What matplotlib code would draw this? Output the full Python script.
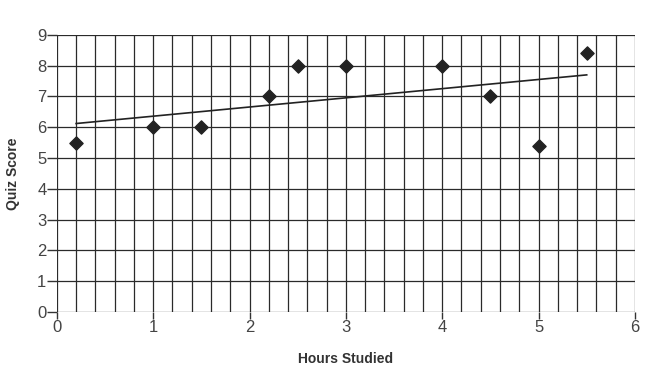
import matplotlib.pyplot as plt
import numpy as np

plt.rcParams['font.family'] = ['Liberation Sans', 'DejaVu Sans']

hours = [0.2, 1, 1.5, 2.2, 2.5, 3, 4, 4.5, 5, 5.5]
scores = [5.5, 6, 6, 7, 8, 8, 8, 7, 5.4, 8.4]
trend_x = [0.2, 5.5]
trend_y = [6.12, 7.70]

fig = plt.figure(figsize=(6.69, 3.79), dpi=100)
ax = fig.add_axes([0.085, 0.177, 0.864, 0.731])

ax.set_xlim(0, 6)
ax.set_ylim(0, 9)
ax.set_xticks(range(0, 7))
ax.set_yticks(range(0, 10))
ax.set_xticks(np.arange(0, 6.01, 0.2), minor=True)
ax.tick_params(which='minor', length=0)
ax.tick_params(which='major', width=1, color='#333333',
               labelsize=12, labelcolor='#444444', pad=1)
ax.tick_params(axis='x', which='major', length=5)
ax.tick_params(axis='y', which='major', length=7, pad=0.5)
ax.grid(which='both', axis='x', color='#2a2a2a', linewidth=0.9)
ax.grid(which='major', axis='y', color='#2a2a2a', linewidth=0.9)
for s in ax.spines.values():
    s.set_visible(False)

ax.plot(trend_x, trend_y, color='#222222', linewidth=1.2, zorder=3)
ax.scatter(hours, scores, marker='D', s=45, color='#222222', zorder=4)

ax.set_xlabel('Hours Studied', fontsize=10, fontweight='bold', color='#333333', labelpad=12)
ax.set_ylabel('Quiz Score', fontsize=10, fontweight='bold', color='#333333', labelpad=12)

fig.savefig('out.png', dpi=100)
